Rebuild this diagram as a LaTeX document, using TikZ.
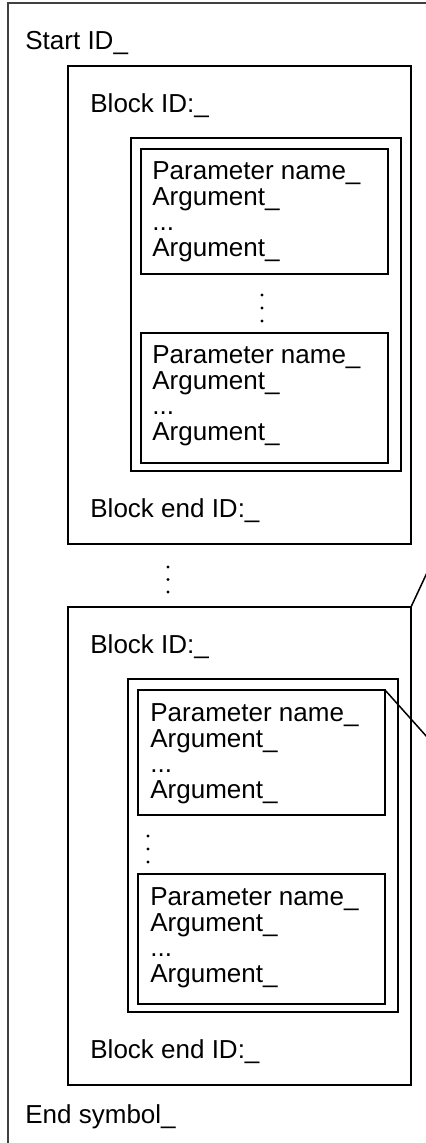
\documentclass[tikz,border=0pt]{standalone}
\usepackage{fontspec}
\setmainfont{Liberation Sans}
\begin{document}
\begin{tikzpicture}[x=0.5pt,y=-0.5pt,
  boxline/.style={draw, line width=0.75pt},
  lbl/.style={anchor=base west, inner sep=0pt, font=\fontsize{13}{13}\selectfont},
  dotc/.style={fill, circle, inner sep=0pt, minimum size=1.7pt}]
\useasboundingbox (0,0) rectangle (425,1143);
\newcommand{\pbox}[7]{%
  \coordinate (#1nw) at (#2,#3);
  \coordinate (#1se) at (#4,#5);
  \draw[boxline] (#1nw) rectangle (#1se);
  \node[lbl] (#1a) at (#6,#7) {Parameter name\_};
  \node[lbl] (#1b) at (#6,#7+26) {Argument\_};
  \node[lbl] (#1c) at (#6,#7+51) {...};
  \node[lbl] (#1d) at (#6,#7+77) {Argument\_};
}
\newcommand{\vdotsat}[4]{%
  \node[dotc] (#1a) at (#2,#3) {};
  \node[dotc] (#1b) at (#2,#3+#4) {};
  \node[dotc] (#1c) at (#2,#3+2*#4) {};
}
% outer frame
\coordinate (ofbl) at (8,1160);
\coordinate (oftl) at (8,3);
\coordinate (oftr) at (440,3);
\draw[line width=1pt, black!75] (ofbl) -- (oftl) -- (oftr);
\node[lbl] (start) at (25,50) {Start ID\_};
% block 1
\coordinate (b1nw) at (68,66);
\coordinate (b1se) at (411,544);
\draw[boxline] (b1nw) rectangle (b1se);
\node[lbl] (b1id) at (90,113) {Block ID:\_};
\coordinate (g1nw) at (131,138);
\coordinate (g1se) at (401,471);
\draw[boxline] (g1nw) rectangle (g1se);
\pbox{p1}{141}{149}{388}{274}{152}{180}
\vdotsat{d1}{262}{295}{13}
\pbox{p2}{141}{333}{388}{463}{152}{364}
\node[lbl] (b1end) at (90,517) {Block end ID:\_};
% dots between blocks
\vdotsat{d2}{168}{567}{12.5}
% block 2
\coordinate (b2nw) at (68,607);
\coordinate (b2se) at (411,1085);
\draw[boxline] (b2nw) rectangle (b2se);
\node[lbl] (b2id) at (90,653) {Block ID:\_};
\coordinate (g2nw) at (128,679);
\coordinate (g2se) at (398,1012);
\draw[boxline] (g2nw) rectangle (g2se);
\pbox{p3}{138}{690}{385}{815}{150}{721}
\vdotsat{d3}{148}{836}{13}
\pbox{p4}{138}{874}{385}{1004}{150}{905}
\node[lbl] (b2end) at (90,1058) {Block end ID:\_};
\node[lbl] (endsym) at (25,1123) {End symbol\_};
% leader lines
\coordinate (l1) at (432,562);
\draw[boxline] (b2nw -| b2se) -- (l1);
\coordinate (l2) at (436,747);
\draw[boxline] (p3nw -| p3se) -- (l2);
\end{tikzpicture}
\end{document}
